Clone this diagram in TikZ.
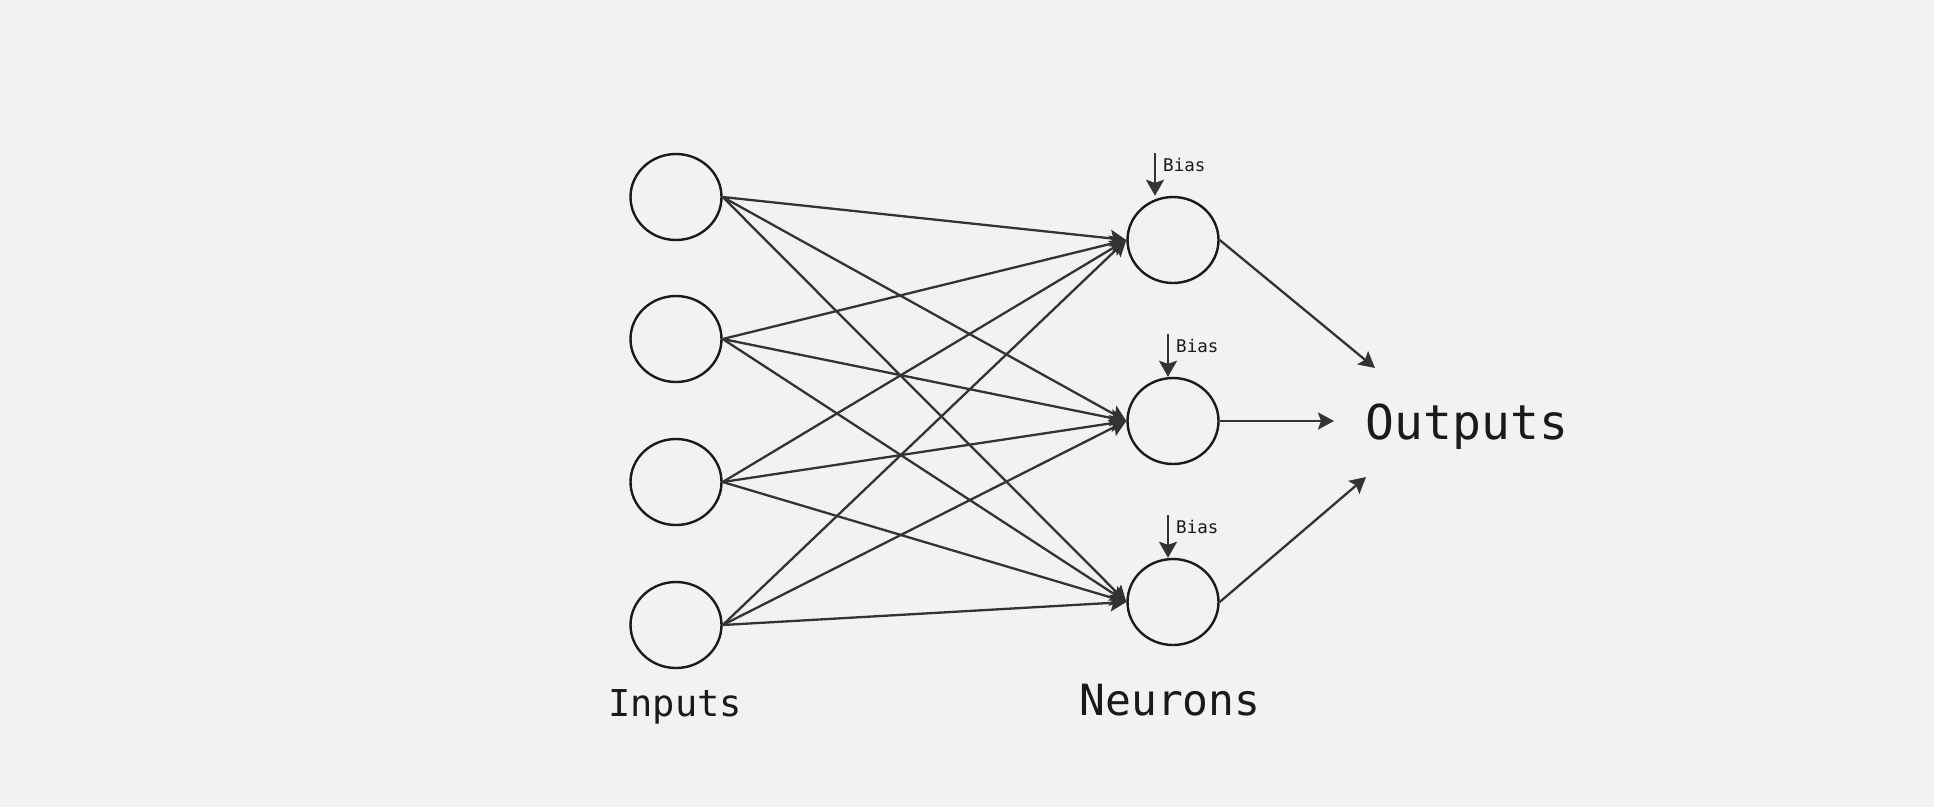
\documentclass[tikz,border=0pt]{standalone}
\usepackage{fontspec}
\setmonofont{DejaVu Sans Mono}
\usetikzlibrary{arrows.meta, positioning, shapes.geometric}
\definecolor{BG}{RGB}{242,242,242}
\definecolor{LN}{RGB}{51,51,51}
\definecolor{TX}{RGB}{26,26,26}

\begin{document}
\begin{tikzpicture}[
  x=1pt, y=-1pt,
  unit/.style={draw=TX, line width=2.4pt, ellipse, fill=none,
               minimum width=91pt, minimum height=86pt, inner sep=0pt},
  link/.style={draw=LN, line width=2.3pt, -{Stealth[length=16pt, width=17pt, inset=3pt]}},
  biasarrow/.style={draw=LN, line width=2.3pt, -{Stealth[length=16pt, width=18pt, inset=3pt]}},
  lbl/.style={text=TX, font=\ttfamily\fontsize{#1}{#1}\selectfont, inner sep=0pt}
]
\useasboundingbox[fill=BG] (0,0) rectangle (1934,807);

% input layer
\node[unit] (in1) at (676,197) {};
\node[unit] (in2) at (676,339) {};
\node[unit] (in3) at (676,482) {};
\node[unit] (in4) at (676,625) {};

% neurons
\node[unit] (n1) at (1173,240) {};
\node[unit] (n2) at (1173,421) {};
\node[unit] (n3) at (1173,602) {};

% weights
\foreach \i in {1,...,4}
  \foreach \j in {1,2,3}
    \draw[link] (in\i.east) -- (n\j.west);

% biases
\coordinate (b1) at (1155,153);
\coordinate (b2) at (1168,334);
\coordinate (b3) at (1168,515);
\draw[biasarrow] (b1) -- (b1 |- n1.north);
\draw[biasarrow] (b2) -- (b2 |- n2.north);
\draw[biasarrow] (b3) -- (b3 |- n3.north);
\node[lbl=17.5, anchor=west] (t1) at (1163,165) {Bias};
\node[lbl=17.5, anchor=west] (t2) at (1176,346) {Bias};
\node[lbl=17.5, anchor=west] (t3) at (1176,527) {Bias};

% outputs
\node[lbl=48] (out) at (1467,427) {Outputs};
\coordinate (o1) at (1375,368);
\coordinate (o2) at (1334,421);
\coordinate (o3) at (1366,477);
\draw[link] (n1.east) -- (o1);
\draw[link] (n2.east) -- (o2);
\draw[link] (n3.east) -- (o3);

% layer captions
\node[lbl=37] (inputs) at (675,707) {Inputs};
\node[lbl=43] (neurons) at (1170,700) {Neurons};
\end{tikzpicture}
\end{document}
